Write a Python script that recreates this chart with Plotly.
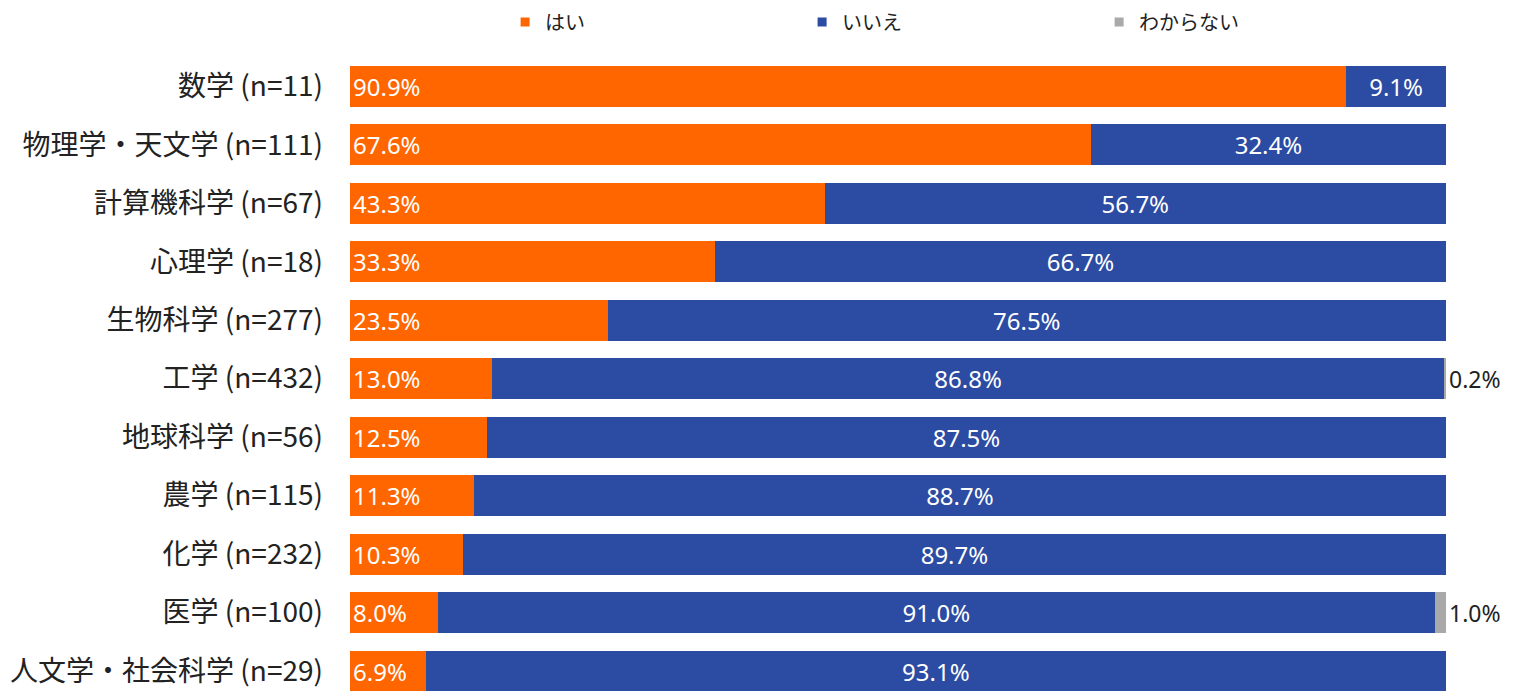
import plotly.graph_objects as go

# Survey results by field (share of answers, %)
categories = [
    "数学 (n=11)",
    "物理学・天文学 (n=111)",
    "計算機科学 (n=67)",
    "心理学 (n=18)",
    "生物科学 (n=277)",
    "工学 (n=432)",
    "地球科学 (n=56)",
    "農学 (n=115)",
    "化学 (n=232)",
    "医学 (n=100)",
    "人文学・社会科学 (n=29)",
]
yes_pct = [90.9, 67.6, 43.3, 33.3, 23.5, 13.0, 12.5, 11.3, 10.3, 8.0, 6.9]
no_pct = [9.1, 32.4, 56.7, 66.7, 76.5, 86.8, 87.5, 88.7, 89.7, 91.0, 93.1]
unknown_pct = [0.0, 0.0, 0.0, 0.0, 0.0, 0.2, 0.0, 0.0, 0.0, 1.0, 0.0]

series_names = ["はい", "いいえ", "わからない"]
colors = ["#FF6600", "#2C4BA2", "#A9A9A9"]

LABEL_FONT = "Noto Sans CJK JP, Noto Sans, sans-serif"
VALUE_FONT = "Noto Sans, Noto Sans CJK JP, sans-serif"


def fmt(values):
    return [f"{v:.1f}%" if v > 0 else "" for v in values]


fig = go.Figure()

fig.add_trace(go.Bar(
    y=categories, x=yes_pct, orientation="h", name=series_names[0],
    marker=dict(color=colors[0], line=dict(width=0)),
    text=fmt(yes_pct), textposition="inside", insidetextanchor="start",
    textfont=dict(color="white", size=24, family=VALUE_FONT),
    showlegend=False, hoverinfo="skip",
))
fig.add_trace(go.Bar(
    y=categories, x=no_pct, orientation="h", name=series_names[1],
    marker=dict(color=colors[1], line=dict(width=0)),
    text=fmt(no_pct), textposition="inside", insidetextanchor="middle",
    textfont=dict(color="white", size=24, family=VALUE_FONT),
    showlegend=False, hoverinfo="skip",
))
fig.add_trace(go.Bar(
    y=categories, x=unknown_pct, orientation="h", name=series_names[2],
    marker=dict(color=colors[2], line=dict(width=0)),
    text=fmt(unknown_pct), textposition="outside",
    textfont=dict(color="#222222", size=23, family=VALUE_FONT),
    cliponaxis=False, showlegend=False, hoverinfo="skip",
))

# Legend entries with small square swatches
for name, color in zip(series_names, colors):
    fig.add_trace(go.Scatter(
        x=[None], y=[None], mode="markers", name=name,
        marker=dict(symbol="square", size=9, color=color),
        showlegend=True,
    ))

fig.update_layout(
    width=1513, height=691,
    barmode="stack",
    bargap=0.3,
    uniformtext=dict(mode=False),
    paper_bgcolor="white", plot_bgcolor="white",
    margin=dict(l=350, r=67, t=57, b=0),
    legend=dict(
        orientation="h", traceorder="normal",
        x=0.548, xanchor="center", y=0.968, yanchor="middle",
        yref="container", entrywidth=252, itemwidth=30,
        font=dict(size=20, family=LABEL_FONT, color="#222222"),
        bgcolor="rgba(0,0,0,0)",
    ),
    xaxis=dict(range=[0, 100], visible=False, fixedrange=True),
    yaxis=dict(
        categoryorder="array", categoryarray=categories,
        range=[10.34, -0.5],
        showgrid=False, zeroline=False, showline=False, ticks="",
        ticklabelstandoff=26,
        tickfont=dict(size=28, family=LABEL_FONT, color="#222222"),
    ),
)

fig.write_html("out.html")
